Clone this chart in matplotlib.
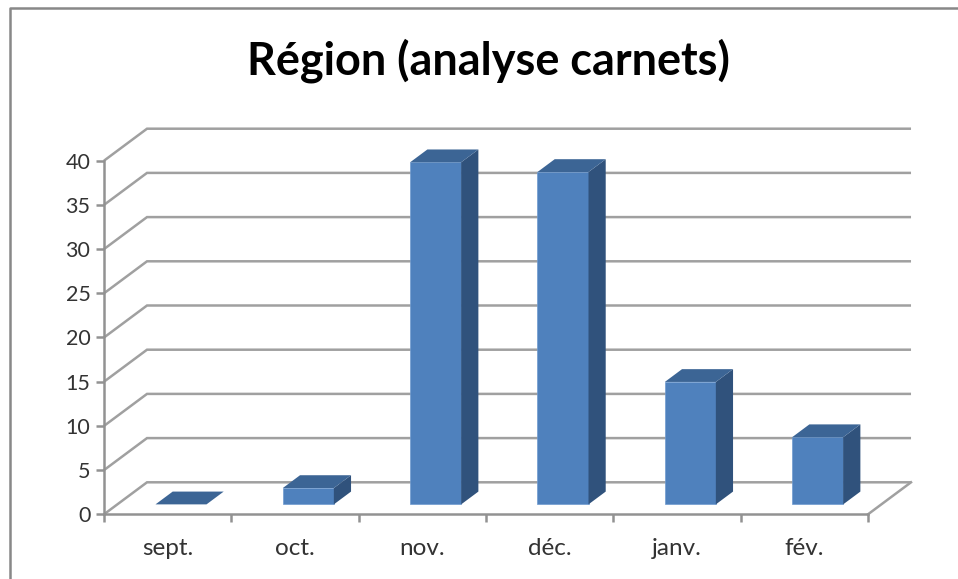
import matplotlib
matplotlib.use("Agg")
import matplotlib.pyplot as plt
from matplotlib.lines import Line2D

plt.rcParams['font.family'] = ['Lato', 'DejaVu Sans']

title = "Région (analyse carnets)"
months = ["sept.", "oct.", "nov.", "déc.", "janv.", "fév."]
values = [0, 1.85, 38.7, 37.6, 13.85, 7.6]
y_ticks = [0, 5, 10, 15, 20, 25, 30, 35, 40]

W, H = 958, 579

# depth of the fake 3D floor, in data units
depth_x = 43 / 127.3
depth_y = 32 / 8.84
# bar geometry, as parts of category width / floor depth
bar_w = 51 / 127.3
d0 = 0.31
d1 = 0.71

grid_col = "#a0a0a0"
axis_col = "#929292"
front_col = "#4f81bd"
top_col = "#3c6595"
side_col = "#30527c"
text_col = "#333333"


def proj(x, y, d):
    return x + d * depth_x, y + d * depth_y


fig = plt.figure(figsize=(W / 100, H / 100), dpi=100)
ax = fig.add_axes([104 / W, (H - 514.3) / H, 764 / W, 353.6 / H])
ax.set_xlim(0, len(months))
ax.set_ylim(0, 40)
ax.patch.set_alpha(0)

# outer frame, only left and top are in the picture
fig.add_artist(Line2D([9.5 / W, 9.5 / W, 1], [0, 1 - 8.3 / H, 1 - 8.3 / H],
                      color="#888888", lw=1.8))

# walls and floor
for t in y_ticks:
    bx, by = proj(0, t, 1)
    ex, _ = proj(len(months), t, 1)
    ax.plot([0, bx, ex], [t, by, by], color=grid_col, lw=1.8, clip_on=False, zorder=1,
            solid_joinstyle="miter", solid_capstyle="butt")
ex, ey = proj(len(months), 0, 1)
ax.plot([len(months), ex], [0, ey], color=grid_col, lw=1.8, clip_on=False, zorder=1)

# bars
for i, v in enumerate(values):
    x0 = i + (1 - bar_w) / 2
    x1 = x0 + bar_w
    fx0, base = proj(x0, 0, d0)
    fx1, _ = proj(x1, 0, d0)
    top = base + v
    step_x = (d1 - d0) * depth_x
    step_y = (d1 - d0) * depth_y
    if v > 0:
        ax.bar(fx0, v, width=bar_w, bottom=base, align="edge", color=front_col,
               edgecolor="#6f9bd0", lw=0.5, clip_on=False, zorder=3)
        ax.fill([fx1, fx1 + step_x, fx1 + step_x, fx1],
                [base, base + step_y, top + step_y, top],
                color=side_col, lw=0, clip_on=False, zorder=3)
    ax.fill([fx0, fx1, fx1 + step_x, fx0 + step_x],
            [top, top, top + step_y, top + step_y],
            color=top_col, lw=0, clip_on=False, zorder=3)

for s in ["top", "right"]:
    ax.spines[s].set_visible(False)
for s in ["left", "bottom"]:
    ax.spines[s].set_color(axis_col)
    ax.spines[s].set_linewidth(1.8)
    ax.spines[s].set_zorder(2)

ax.set_yticks(y_ticks)
ax.set_xticks(range(len(months) + 1))
ax.set_xticklabels([])
ax.set_xticks([i + 0.5 for i in range(len(months))], minor=True)
ax.set_xticklabels(months, minor=True)
ax.tick_params(axis="both", which="major", length=5.8, width=1.8, color=axis_col)
ax.tick_params(axis="x", which="minor", length=0, pad=17, labelsize=17.5, labelcolor=text_col)
ax.tick_params(axis="y", which="major", pad=4, labelsize=15.5, labelcolor=text_col)

fig.text(488.5 / W, 1 - 61 / H, title, ha="center", va="center",
         fontsize=32.4, fontweight="bold", color="black")

fig.savefig("out.png", dpi=100, facecolor="white")
